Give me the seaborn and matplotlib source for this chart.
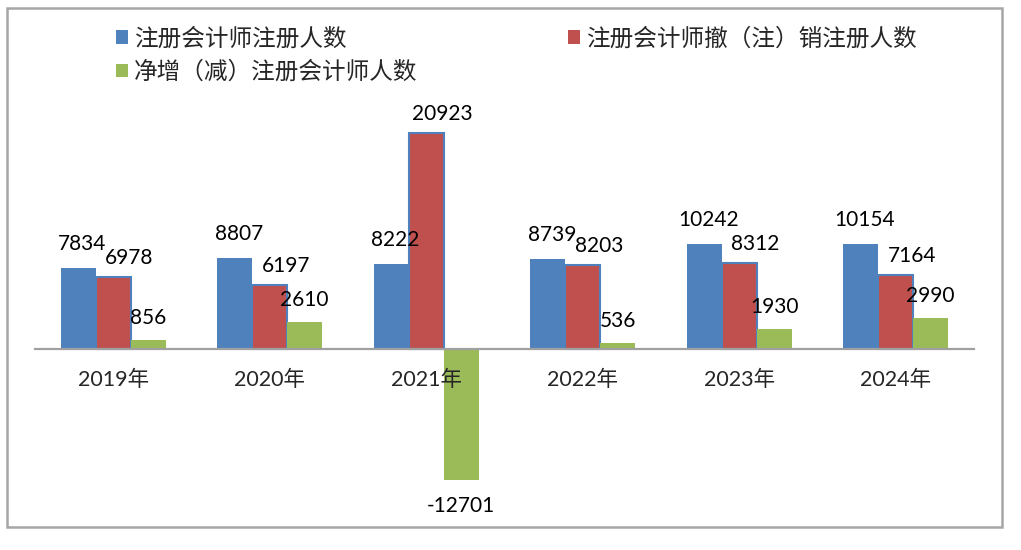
import matplotlib
matplotlib.use("Agg")
import matplotlib.pyplot as plt
import matplotlib.patches as mpatches
import seaborn as sns
import pandas as pd

years = ["2019年", "2020年", "2021年", "2022年", "2023年", "2024年"]
series_names = ["注册会计师注册人数", "注册会计师撤（注）销注册人数", "净增（减）注册会计师人数"]
registered = [7834, 8807, 8222, 8739, 10242, 10154]
cancelled = [6978, 6197, 20923, 8203, 8312, 7164]
net_change = [856, 2610, -12701, 536, 1930, 2990]

colors = ["#4F81BD", "#C0504D", "#9BBB59"]

rows = []
for name, vals in zip(series_names, [registered, cancelled, net_change]):
    for y, v in zip(years, vals):
        rows.append({"year": y, "series": name, "value": v})
df = pd.DataFrame(rows)

sns.set_style("white")
plt.rcParams["font.family"] = ["Lato", "Noto Sans CJK SC", "DejaVu Sans"]

fig = plt.figure(figsize=(10.21, 5.5), dpi=100)
W, H = 1021, 550
ax = fig.add_axes([35 / W, (H - 503.5) / H, (974 - 35) / W, 412 / H])

sns.barplot(data=df, x="year", y="value", hue="series", hue_order=series_names,
            order=years, palette=colors, width=0.67, errorbar=None,
            saturation=1, legend=False, ax=ax, linewidth=0, zorder=1)

ax.set_ylim(-15000, 25000)
ax.set_xlim(-0.5, len(years) - 0.5)

# red bars with blue outline (as in reference)
for p in ax.containers[1]:
    p.set_edgecolor("#4F81BD")
    p.set_linewidth(1.5)

# data labels
offsets = [(4, 24), (16, 19), (0, 22)]
for cont, (dx, dy) in zip(ax.containers, offsets):
    for p in cont:
        v = p.get_height()
        xc = p.get_x() + p.get_width() / 2
        if v >= 0:
            ax.annotate(f"{int(round(v))}", (xc, v), xytext=(dx, dy),
                        textcoords="offset pixels", ha="center", va="center",
                        fontsize=15, color="black", zorder=6)
        else:
            ax.annotate(f"{int(round(v))}", (xc, v), xytext=(dx, -26),
                        textcoords="offset pixels", ha="center", va="center",
                        fontsize=15, color="black", zorder=6)

for s in ["top", "right", "left"]:
    ax.spines[s].set_visible(False)
ax.spines["bottom"].set_position(("data", 0))
ax.spines["bottom"].set_color("#A0A0A0")
ax.spines["bottom"].set_linewidth(1.6)
ax.spines["bottom"].set_zorder(4)
ax.xaxis.set_zorder(5)
ax.set_yticks([])
ax.set_xlabel("")
ax.set_ylabel("")
ax.tick_params(axis="x", length=0, pad=15, labelsize=15.5)
ax.set_facecolor("none")

# legend (row-major order)
handles = [mpatches.Patch(facecolor=c, edgecolor="none") for c in colors]
order = [0, 2, 1]
fig.legend([handles[i] for i in order], [series_names[i] for i in order],
           loc="upper left", bbox_to_anchor=(116 / W, 1 - 27 / H), ncol=2,
           frameon=False, fontsize=17, handlelength=0.5, handleheight=0.5,
           handletextpad=0.25, columnspacing=6.4, labelspacing=0.45,
           borderpad=0, borderaxespad=0)

# figure border
fig.patches.append(mpatches.Rectangle((7 / W, (H - 527) / H), 995 / W, 519 / H,
                                      transform=fig.transFigure, fill=False,
                                      edgecolor="#A6A6A6", linewidth=1.8))

fig.savefig("out.png", dpi=100)
